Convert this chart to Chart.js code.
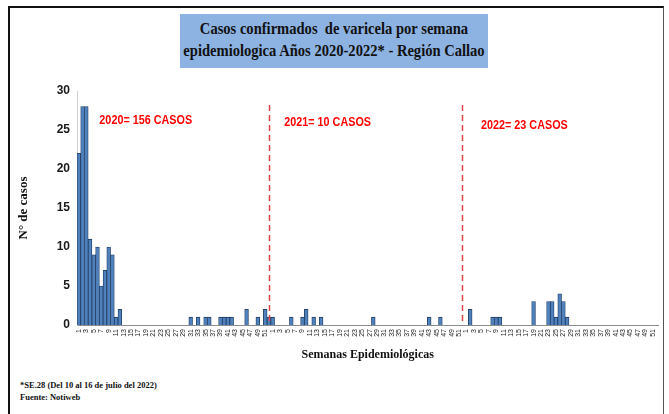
<!DOCTYPE html>
<html>
<head>
<meta charset="utf-8">
<script src="https://cdn.jsdelivr.net/npm/chart.js@4.4.0/dist/chart.umd.min.js"></script>
<style>
  body { margin: 0; background: #fff; }
  #wrap { position: relative; width: 669px; height: 414px; overflow: hidden; }
  #frame { position: absolute; left: 8px; top: 6px; width: 653px; height: 420px; border: 2px solid #111; border-right: 1px solid #555; }
  #title { position: absolute; left: 180px; top: 14px; width: 308px; height: 54px; background: #8DB3E2;
           font: bold 16px 'Liberation Serif', serif; color: #111; }
  #title div { width: 420px; margin-left: -56px; text-align: center; line-height: 22px; white-space: nowrap; transform: scaleX(0.91); }
  #title .l1 { margin-top: 4px; }
  #notes { position: absolute; left: 20px; top: 379px; font: bold 8.5px 'Liberation Serif', serif; color: #111; line-height: 12px; }
  #chart { position: absolute; left: 0; top: 0; }
</style>
</head>
<body>
<div id="wrap">
  <div id="frame"></div>
  <div id="title">
    <div class="l1">Casos confirmados&nbsp; de varicela por semana</div>
    <div>epidemiologica Años 2020-2022* - Región Callao</div>
  </div>
  <div id="notes">
    <div>*SE.28 (Del 10 al 16 de julio del 2022)</div>
    <div>Fuente: Notiweb</div>
  </div>
  <canvas id="chart" width="669" height="414"></canvas>
</div>
<script>
// epidemiological weeks per year
const weeks = Array.from({ length: 52 }, (_, i) => String(i + 1));

// confirmed cases per week, one array per year
const cases2020 = [22, 28, 28, 11, 9, 10, 5, 7, 10, 9, 1, 2, 0, 0, 0, 0, 0, 0, 0, 0,
                   0, 0, 0, 0, 0, 0, 0, 0, 0, 0, 1, 0, 1, 0, 1, 1, 0, 0, 1, 1,
                   1, 1, 0, 0, 0, 2, 0, 0, 1, 0, 2, 1];
const cases2021 = [1, 0, 0, 0, 0, 1, 0, 0, 1, 2, 0, 1, 0, 1, 0, 0, 0, 0, 0, 0,
                   0, 0, 0, 0, 0, 0, 0, 1, 0, 0, 0, 0, 0, 0, 0, 0, 0, 0, 0, 0,
                   0, 0, 1, 0, 0, 1, 0, 0, 0, 0, 0, 0];
const cases2022 = [0, 2, 0, 0, 0, 0, 0, 1, 1, 1, 0, 0, 0, 0, 0, 0, 0, 0, 3, 0,
                   0, 0, 3, 3, 1, 4, 3, 1, null, null, null, null, null, null, null, null, null, null, null, null,
                   null, null, null, null, null, null, null, null, null, null, null, null];

const yTicks = [0, 5, 10, 15, 20, 25, 30];

// yearly totals shown over each block, and where the year separators sit (category units)
const yearNotes = [
  { text: '2020= 156 CASOS', x: 5.5, y: 26.2 },
  { text: '2021= 10 CASOS', x: 55.1, y: 26.0 },
  { text: '2022= 23 CASOS', x: 107.9, y: 25.6 }
];
const yearBreaks = [50.9, 102.7];

const labels = [...weeks, ...weeks, ...weeks];
const values = [...cases2020, ...cases2021, ...cases2022];

const yearMarks = {
  id: 'yearMarks',
  afterDatasetsDraw(chart) {
    const { ctx, scales: { x, y } } = chart;
    ctx.save();
    // dashed separators between years
    ctx.strokeStyle = '#E04343';
    ctx.lineWidth = 1.5;
    ctx.setLineDash([6, 4]);
    yearBreaks.forEach(b => {
      const px = Math.round(x.getPixelForValue(b)) + 0.5;
      ctx.beginPath();
      ctx.moveTo(px, y.getPixelForValue(28.2));
      ctx.lineTo(px, y.getPixelForValue(0));
      ctx.stroke();
    });
    ctx.setLineDash([]);
    // yearly totals
    ctx.fillStyle = '#FF0000';
    ctx.font = "bold 13.5px 'Liberation Sans', Arial, sans-serif";
    ctx.textBaseline = 'middle';
    yearNotes.forEach(n => {
      ctx.save();
      ctx.translate(x.getPixelForValue(n.x), y.getPixelForValue(n.y));
      ctx.scale(0.8, 1);
      ctx.fillText(n.text, 0, 0);
      ctx.restore();
    });
    ctx.restore();
  }
};

new Chart(document.getElementById('chart'), {
  type: 'bar',
  data: {
    labels: labels,
    datasets: [{
      data: values,
      backgroundColor: '#4F81BD',
      borderColor: '#1F3A60',
      borderWidth: 0.8,
      categoryPercentage: 1,
      barPercentage: 1
    }]
  },
  options: {
    responsive: false,
    animation: false,
    layout: { padding: { left: 15, right: 8, top: 91, bottom: 52 } },
    plugins: { legend: { display: false }, tooltip: { enabled: false } },
    scales: {
      x: {
        afterFit(s) { s.height = 37; },
        grid: { display: false, drawTicks: false },
        border: { display: true, color: '#8C8C8C' },
        ticks: {
          autoSkip: false,
          minRotation: 90,
          maxRotation: 90,
          padding: 4,
          color: '#222',
          font: { family: "'Liberation Sans', Arial, sans-serif", size: 7 },
          callback: (v, i) => (i % 2 === 0 ? labels[i] : '')
        },
        title: {
          display: true,
          text: 'Semanas Epidemiológicas',
          color: '#111',
          padding: 0,
          font: { family: "'Liberation Serif', serif", size: 12, weight: 'bold' }
        }
      },
      y: {
        min: 0,
        max: 30,
        afterFit(s) { s.width = 62; },
        afterBuildTicks(s) { s.ticks = yTicks.map(v => ({ value: v })); },
        grid: { display: false, drawTicks: false },
        border: { display: true, color: '#D0D0D0' },
        ticks: {
          padding: 7,
          color: '#1a1a1a',
          font: { family: "'Liberation Sans', Arial, sans-serif", size: 12, weight: 'bold' }
        },
        title: {
          display: true,
          text: 'N° de casos',
          color: '#111',
          padding: { top: 1, bottom: 0 },
          font: { family: "'Liberation Serif', serif", size: 13, weight: 'bold' }
        }
      }
    }
  },
  plugins: [yearMarks]
});
</script>
</body>
</html>
